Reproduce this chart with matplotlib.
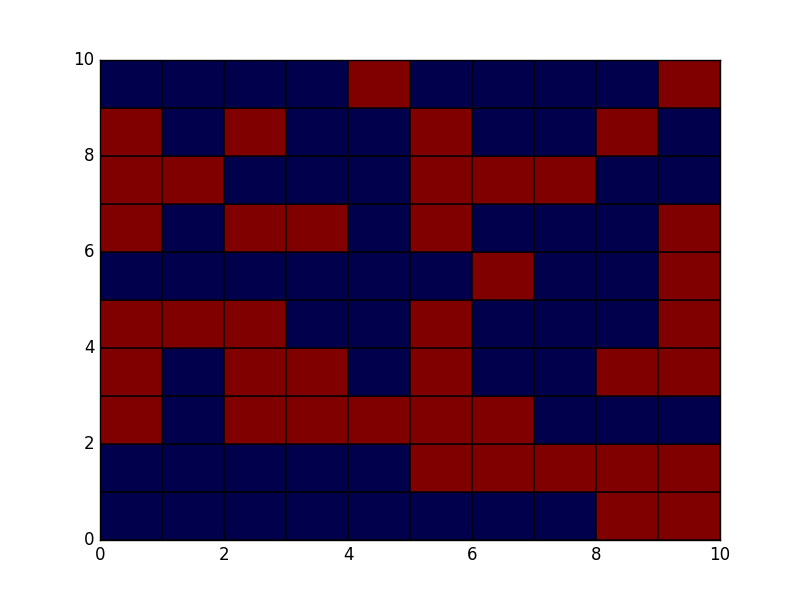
import numpy as np
import matplotlib
matplotlib.use("Agg")
import matplotlib.pyplot as plt

plt.style.use("classic")

# grid values, row 0 = bottom (y from 0 to 1), 1 = red, 0 = blue
rows_bottom_up = [
    [0, 0, 0, 0, 0, 0, 0, 0, 1, 1],
    [0, 0, 0, 0, 0, 1, 1, 1, 1, 1],
    [1, 0, 1, 1, 1, 1, 1, 0, 0, 0],
    [1, 0, 1, 1, 0, 1, 0, 0, 1, 1],
    [1, 1, 1, 0, 0, 1, 0, 0, 0, 1],
    [0, 0, 0, 0, 0, 0, 1, 0, 0, 1],
    [1, 0, 1, 1, 0, 1, 0, 0, 0, 1],
    [1, 1, 0, 0, 0, 1, 1, 1, 0, 0],
    [1, 0, 1, 0, 0, 1, 0, 0, 1, 0],
    [0, 0, 0, 0, 1, 0, 0, 0, 0, 1],
]
data = np.array(rows_bottom_up)

fig = plt.figure(figsize=(8, 6), dpi=100)
ax = fig.add_subplot(111)
ax.pcolor(data, cmap="seismic", edgecolors="k", linewidth=1)
ax.set_xlim(0, 10)
ax.set_ylim(0, 10)
fig.savefig("out.png", dpi=100)
